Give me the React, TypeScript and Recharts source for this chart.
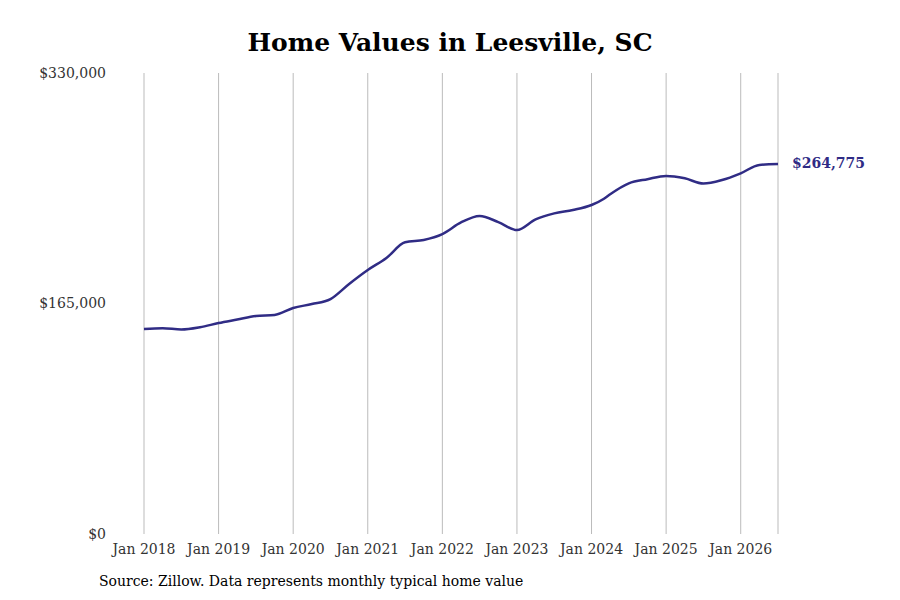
import React from 'react';
import { LineChart, Line, XAxis, YAxis, CartesianGrid } from 'recharts';

const months = [0, 3, 6, 9, 12, 15, 18, 21, 24, 27, 30, 33, 36, 39, 42, 45, 48, 51, 54, 57, 60, 63, 66, 69, 72, 74, 75, 78, 81, 84, 87, 90, 93, 96, 99, 102];
const values = [146700, 147300, 146400, 148000, 151000, 153500, 156000, 156800, 161800, 164600, 168200, 179000, 189000, 197600, 208800, 210500, 214700, 223000, 227600, 223300, 217600, 225200, 229500, 231900, 235500, 240000, 243200, 251000, 254000, 256300, 254600, 250900, 253400, 258200, 264200, 264775];
const tickMonths = [0, 12, 24, 36, 48, 60, 72, 84, 96];
const tickLabels = ['Jan 2018', 'Jan 2019', 'Jan 2020', 'Jan 2021', 'Jan 2022', 'Jan 2023', 'Jan 2024', 'Jan 2025', 'Jan 2026'];
const yTicks = [0, 165000, 330000];

const data = months.map((m, i) => ({ m, v: values[i] }));
const color = '#302c85';
const font = 'DejaVu Serif, Liberation Serif, serif';

const EndLabel = (props: any) => {
  const { x, y, index } = props;
  if (index !== data.length - 1) return null;
  return (
    <text x={x + 14} y={y} dy={4} fill={color} fontWeight="bold" fontSize={14} fontFamily={font}>
      ${values[values.length - 1].toLocaleString('en-US')}
    </text>
  );
};

export default function App() {
  return (
    <div style={{ position: 'absolute', left: 0, top: 0, width: 900, height: 600, background: '#fff', fontFamily: font }}>
      <div style={{ position: 'absolute', top: 28, width: 900, textAlign: 'center', fontSize: 25, fontWeight: 'bold', color: '#000' }}>
        Home Values in Leesville, SC
      </div>
      <LineChart width={900} height={600} data={data} margin={{ top: 73, right: 122, bottom: 0, left: 0 }}>
        <CartesianGrid vertical horizontal={false} stroke="#bbb" />
        <XAxis dataKey="m" type="number" domain={[0, 102]} ticks={tickMonths} tickFormatter={(v: number) => tickLabels[tickMonths.indexOf(v)]}
          height={66} axisLine={false} tickLine={false} tickSize={0} tickMargin={10} interval={0}
          tick={{ fill: '#333', fontSize: 14, fontFamily: font }} />
        <YAxis type="number" domain={[0, 330000]} ticks={yTicks} width={144} axisLine={false} tickLine={false} tickSize={0} tickMargin={38}
          tickFormatter={(v: number) => '$' + v.toLocaleString('en-US')}
          tick={{ fill: '#333', fontSize: 14, fontFamily: font }} />
        <Line type="monotone" dataKey="v" stroke={color} strokeWidth={2.5} dot={false} isAnimationActive={false} label={<EndLabel />} />
      </LineChart>
      <div style={{ position: 'absolute', left: 99, top: 573, fontSize: 14, color: '#000' }}>
        Source: Zillow. Data represents monthly typical home value
      </div>
    </div>
  );
}
